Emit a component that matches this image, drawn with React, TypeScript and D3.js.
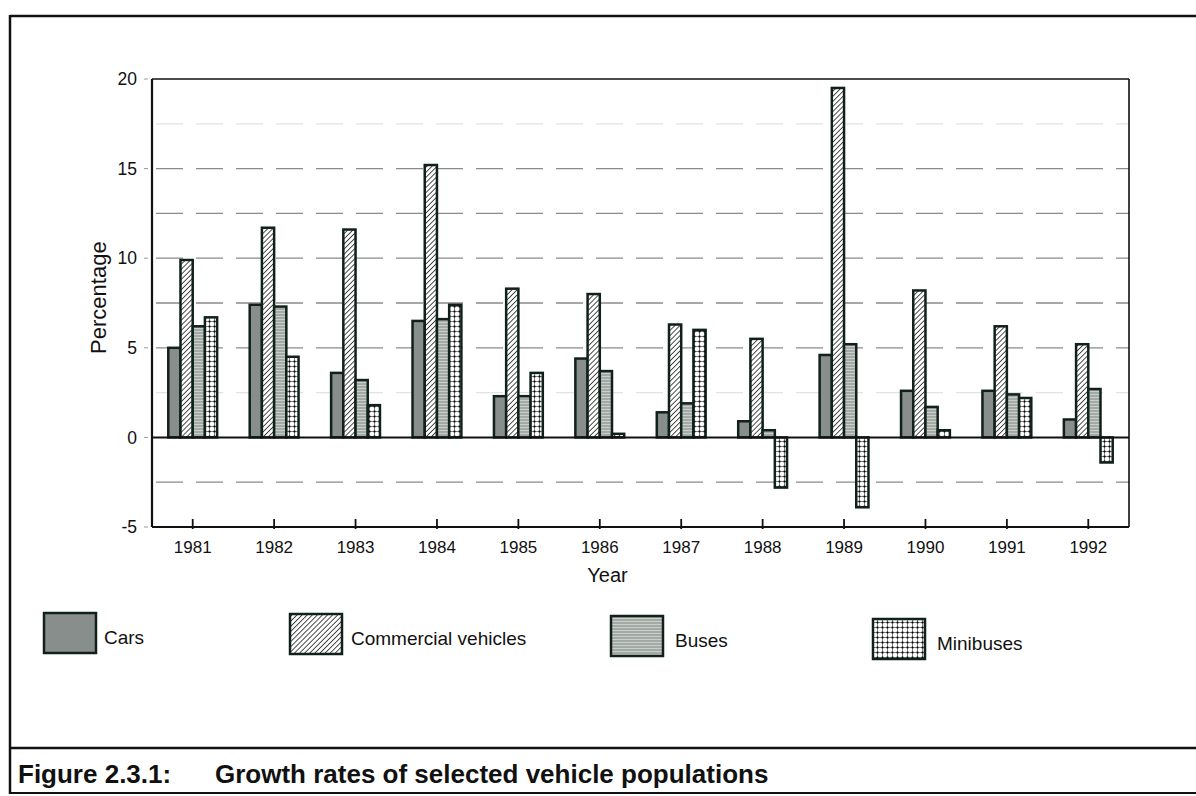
import React from 'react'
import * as d3 from 'd3'

// values (percent growth per year)
const years = ['1981', '1982', '1983', '1984', '1985', '1986', '1987', '1988', '1989', '1990', '1991', '1992']
const cars = [5.0, 7.4, 3.6, 6.5, 2.3, 4.4, 1.4, 0.9, 4.6, 2.6, 2.6, 1.0]
const commercial = [9.9, 11.7, 11.6, 15.2, 8.3, 8.0, 6.3, 5.5, 19.5, 8.2, 6.2, 5.2]
const buses = [6.2, 7.3, 3.2, 6.6, 2.3, 3.7, 1.9, 0.4, 5.2, 1.7, 2.4, 2.7]
const minibuses = [6.7, 4.5, 1.8, 7.4, 3.6, 0.2, 6.0, -2.8, -3.9, 0.4, 2.2, -1.4]

const seriesNames = ['Cars', 'Commercial vehicles', 'Buses', 'Minibuses']
const yTicks = [-5, 0, 5, 10, 15, 20]
const gridValues = [17.5, 15, 12.5, 10, 7.5, 5, 2.5, -2.5]
const faintGrid = [17.5, 2.5]

const W = 1196
const H = 796
const margin = { top: 79, right: 67, bottom: 269, left: 152 }
const font = '"Liberation Sans", Arial, Helvetica, sans-serif'

const fills: Record<string, string> = {
  Cars: '#888e8b',
  'Commercial vehicles': 'url(#hatch)',
  Buses: 'url(#hlines)',
  Minibuses: 'url(#dots)',
}

// legend layout: swatch x, text x
const legendPos = [
  { x: 44, y: 613, tx: 104 },
  { x: 290, y: 614, tx: 351 },
  { x: 611, y: 616, tx: 675 },
  { x: 873, y: 619, tx: 937 },
]

const App = () => {
  const x1 = W - margin.left - margin.right
  const y1 = H - margin.top - margin.bottom

  const values = [cars, commercial, buses, minibuses]

  const xScale = d3.scaleBand<string>().domain(years).range([0, x1]).paddingInner(0.4).paddingOuter(0.2)
  const xInner = d3.scaleBand<string>().domain(seriesNames).range([0, xScale.bandwidth()]).padding(0)
  const yScale = d3.scaleLinear().domain([-5, 20]).range([y1, 0])

  const bars = years.flatMap((yr, i) =>
    seriesNames.map((s, j) => {
      const v = values[j][i]
      return { key: `${yr}-${s}`, x: (xScale(yr) ?? 0) + (xInner(s) ?? 0), v, s }
    }),
  )

  return (
    <svg width={W} height={H} style={{ position: 'absolute', left: 0, top: 0, background: '#fff' }}>
      <defs>
        <pattern id="hatch" patternUnits="userSpaceOnUse" width="3.6" height="3.6" patternTransform="rotate(45)">
          <rect width="3.6" height="3.6" fill="#fff" />
          <line x1="0" y1="0" x2="0" y2="3.6" stroke="#111" strokeWidth="1.5" />
        </pattern>
        <pattern id="hlines" patternUnits="userSpaceOnUse" width="4" height="3">
          <rect width="4" height="3" fill="#a3aaa6" />
          <line x1="0" y1="0.5" x2="4" y2="0.5" stroke="#c9cfcb" strokeWidth="1" />
        </pattern>
        <pattern id="dots" patternUnits="userSpaceOnUse" width="5" height="5">
          <rect width="5" height="5" fill="#fff" />
          <line x1="2.5" y1="0" x2="2.5" y2="5" stroke="#444" strokeWidth="0.7" />
          <line x1="0" y1="2.5" x2="5" y2="2.5" stroke="#444" strokeWidth="0.7" />
          <rect x="1.6" y="1.6" width="1.8" height="1.8" fill="#000" />
        </pattern>
      </defs>

      {/* outer frame */}
      <g fill="none" stroke="#111">
        <line x1={10} y1={16} x2={W} y2={16} strokeWidth={2.5} />
        <line x1={10} y1={15} x2={10} y2={794} strokeWidth={2.5} />
        <line x1={10} y1={748} x2={W} y2={748} strokeWidth={2.5} />
        <line x1={10} y1={793} x2={W} y2={793} strokeWidth={2} />
      </g>

      <g transform={`translate(${margin.left},${margin.top})`}>
        {/* dashed grid */}
        {gridValues.map((g) => (
          <line
            key={g}
            x1={4}
            x2={x1}
            y1={yScale(g)}
            y2={yScale(g)}
            stroke={faintGrid.includes(g) ? '#e2e2e2' : '#8a8a8a'}
            strokeWidth={1.3}
            strokeDasharray="27 13"
          />
        ))}

        {/* y ticks */}
        {yTicks.map((t) => (
          <g key={t} transform={`translate(0,${yScale(t)})`}>
            <line x1={-8} x2={-4} stroke="#999" strokeWidth={1} />
            <text x={-15} dy="0.35em" textAnchor="end" fontFamily={font} fontSize={17.5} fill="#111">
              {t}
            </text>
          </g>
        ))}

        {/* bars */}
        {bars.map((b) => (
          <rect
            key={b.key}
            x={b.x}
            y={yScale(Math.max(0, b.v))}
            width={xInner.bandwidth()}
            height={Math.abs(yScale(b.v) - yScale(0))}
            fill={fills[b.s]}
            stroke="#10201a"
            strokeWidth={2.5}
          />
        ))}

        {/* zero line */}
        <line x1={0} x2={x1} y1={yScale(0)} y2={yScale(0)} stroke="#111" strokeWidth={2} />

        {/* plot frame */}
        <line x1={0} x2={x1} y1={0} y2={0} stroke="#111" strokeWidth={1.6} />
        <line x1={x1} x2={x1} y1={0} y2={y1} stroke="#111" strokeWidth={1.6} />
        <line x1={0} x2={0} y1={0} y2={y1} stroke="#111" strokeWidth={2.2} />
        <line x1={0} x2={x1} y1={y1} y2={y1} stroke="#111" strokeWidth={2.2} />

        {/* x ticks and labels */}
        {years.map((yr) => {
          const cx = (xScale(yr) ?? 0) + xScale.bandwidth() / 2
          return (
            <g key={yr} transform={`translate(${cx},${y1})`}>
              <line y1={-8} y2={2} stroke="#111" strokeWidth={1.8} />
              <text y={26} textAnchor="middle" fontFamily={font} fontSize={17} fill="#111">
                {yr}
              </text>
            </g>
          )
        })}

        <text x={x1 / 2 - 33} y={y1 + 55} textAnchor="middle" fontFamily={font} fontSize={20} fill="#111">
          Year
        </text>
        <text
          transform={`translate(${-46},${yScale(7.8)}) rotate(-90)`}
          textAnchor="middle"
          fontFamily={font}
          fontSize={22}
          fill="#111"
        >
          Percentage
        </text>
      </g>

      {/* legend */}
      {seriesNames.map((s, i) => {
        const p = legendPos[i]
        return (
          <g key={s}>
            <rect x={p.x} y={p.y} width={52} height={40} fill={fills[s]} stroke="#10201a" strokeWidth={2.5} />
            <text x={p.tx} y={p.y + 31} fontFamily={font} fontSize={19} fill="#111">
              {s}
            </text>
          </g>
        )
      })}

      {/* caption */}
      <text x={18} y={783} fontFamily={font} fontSize={26} fontWeight="bold" fill="#111">
        Figure 2.3.1:
      </text>
      <text x={215} y={783} fontFamily={font} fontSize={26} fontWeight="bold" fill="#111">
        Growth rates of selected vehicle populations
      </text>
    </svg>
  )
}

export default App
